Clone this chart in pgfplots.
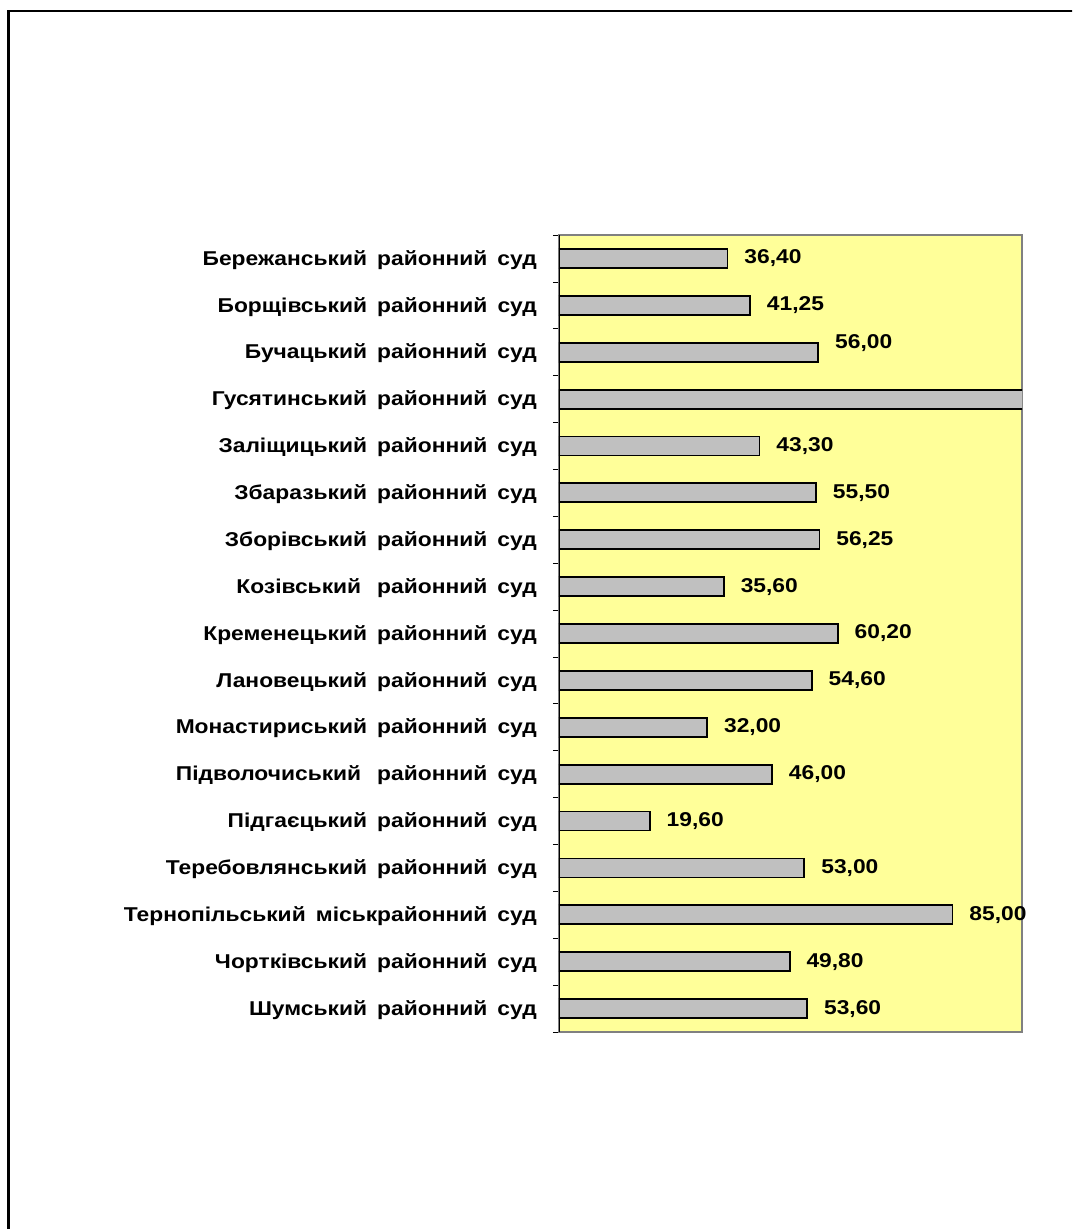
\documentclass[border=0pt]{standalone}
\usepackage{fontspec}
\setmainfont{Liberation Sans}
\newfontfamily\lbl{Liberation Sans}[FakeStretch=1.14, WordSpace=1.6]
\usepackage{pgfplots}
\pgfplotsset{compat=1.18}
\definecolor{plotbg}{HTML}{FFFF99}
\definecolor{barfill}{HTML}{C0C0C0}
\definecolor{frame}{HTML}{808080}

\begin{document}
\begin{tikzpicture}
% page: 1072 x 1229 px at 0.75pt/px
\clip (0,0) rectangle (804pt,-921.75pt);
\draw[line width=1.6pt] (6.4pt,-930pt) -- (6.4pt,-8pt) -- (810pt,-8pt);
\begin{axis}[
    at={(419.25pt,-774pt)}, anchor=south west,
    scale only axis, width=347.25pt, height=597.75pt,
    axis background/.style={fill=plotbg},
    axis line style={draw=frame, line width=0.8pt},
    xmin=0, xmax=100, xtick=\empty,
    ymin=-0.5, ymax=16.5, y dir=reverse,
    ytick={0,...,16},
    major tick length=0pt,
    minor ytick={-0.5,0.5,...,16.5},
    minor tick length=4.5pt,
    tick align=outside, ytick pos=left,
    minor tick style={black, line width=0.6pt},
    yticklabels={
      Бережанський районний суд,
      Борщівський районний суд,
      Бучацький районний суд,
      Гусятинський районний суд,
      Заліщицький районний суд,
      Збаразький районний суд,
      Зборівський районний суд,
      Козівський\hskip 12pt районний суд,
      Кременецький районний суд,
      Лановецький районний суд,
      Монастириський районний суд,
      Підволочиський\hskip 12pt районний суд,
      Підгаєцький районний суд,
      Теребовлянський районний суд,
      Тернопільський міськрайонний суд,
      Чортківський районний суд,
      Шумський районний суд},
    yticklabel style={font=\lbl\fontsize{15}{18}\selectfont\bfseries, anchor=east, inner sep=0pt, xshift=-16.5pt, yshift=-1pt},
    xbar, bar width=14.25pt, bar shift=0pt,
    /pgf/number format/fixed, /pgf/number format/fixed zerofill,
    /pgf/number format/precision=2, /pgf/number format/use comma,
    /pgf/number format/assume math mode=true,
    nodes near coords,
    nodes near coords style={font=\lbl\fontsize{15}{18}\selectfont\bfseries, black, anchor=west, inner sep=0pt, xshift=12pt},
]
\addplot[fill=barfill, draw=black, line width=1.4pt] coordinates {
  (36.40,0) (41.25,1) (43.30,4) (55.50,5) (56.25,6) (35.60,7)
  (60.20,8) (54.60,9) (32.00,10) (46.00,11) (19.60,12) (53.00,13)
  (85.00,14) (49.80,15) (53.60,16)
};
% Бучацький: label set a little higher
\addplot[fill=barfill, draw=black, line width=1.4pt,
  nodes near coords style={yshift=7pt}] coordinates {(56.00,2)};
% Гусятинський: runs past the plot edge, no label shown
\addplot[fill=barfill, draw=black, line width=1.4pt,
  nodes near coords={}] coordinates {(120,3)};
\end{axis}
\begin{axis}[
    at={(419.25pt,-774pt)}, anchor=south west,
    scale only axis, width=347.25pt, height=597.75pt,
    hide axis, xmin=0, xmax=1, ymin=0, ymax=1]
\draw[black, line width=1pt] (axis cs:0,0) -- (axis cs:0,1);
\end{axis}
\end{tikzpicture}
\end{document}
